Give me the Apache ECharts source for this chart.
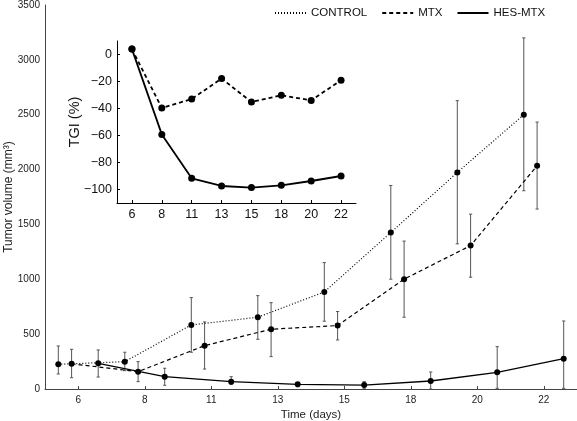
<!DOCTYPE html>
<html><head><meta charset="utf-8">
<script src="https://cdn.jsdelivr.net/npm/echarts@6/dist/echarts.min.js"></script>
<style>html,body{margin:0;padding:0;background:#fff}#c{width:577px;height:421px}</style>
</head><body><div id="c"></div>
<script>
// ---- data ----
const dayLabels = ['6','8','11','13','15','18','20','22'];
const controlMean = [225, 249, 584, 654, 885, 1426, 1974, 2500];
const controlLow  = [137, 167, 335, 453, 618, 1001, 1323, 1807];
const controlHigh = [392, 335, 833, 851, 1152, 1855, 2628, 3200];
const mtxMean = [230, 158, 395, 545, 578, 1001, 1307, 2035];
const mtxLow  = [103, 67, 182, 295, 447, 654, 1019, 1640];
const mtxHigh = [362, 249, 611, 787, 706, 1348, 1594, 2433];
const hesMean = [234, 112, 67, 43, 36, 73, 152, 276];
const hesLow  = [109, 34, 43, 21, 6, 0, 6, 6];
const hesHigh = [356, 189, 112, 57, 67, 155, 386, 620];
const tgiMtx = [4, -39.6, -33, -17.8, -35.2, -30.2, -34, -19.1];
const tgiHes = [4, -59.2, -91.7, -97.4, -98.6, -96.9, -93.7, -90];
const yTicksMain = [0, 500, 1000, 1500, 2000, 2500, 3000, 3500];
const yTicksInset = [-100, -80, -60, -40, -20, 0];

// ---- presentation ----
const FONT = "'Liberation Sans', Arial, sans-serif";
const offsets = {control: -0.3, mtx: -0.1, hes: 0.3};
const idx = dayLabels.map((_, i) => i);
const pts = (vals, off) => vals.map((v, i) => [i + off, v]);
const errs = (lo, hi, off) => lo.map((l, i) => [i + off, l, hi[i]]);

function errRender(params, api) {
  const x = api.value(0);
  const lo = api.coord([x, api.value(1)]);
  const hi = api.coord([x, api.value(2)]);
  const w = 1.6;
  const st = {stroke: '#555', lineWidth: 1};
  return {type: 'group', children: [
    {type: 'line', shape: {x1: lo[0], y1: lo[1], x2: hi[0], y2: hi[1]}, style: st},
    {type: 'line', shape: {x1: lo[0]-w, y1: lo[1], x2: lo[0]+w, y2: lo[1]}, style: st},
    {type: 'line', shape: {x1: hi[0]-w, y1: hi[1], x2: hi[0]+w, y2: hi[1]}, style: st}
  ]};
}
const errSeries = (name, lo, hi, off) => ({
  type: 'custom', name: name, xAxisIndex: 0, yAxisIndex: 0, z: 1,
  renderItem: errRender, encode: {x: 0, y: [1, 2]}, data: errs(lo, hi, off), silent: true
});
const lineSeries = (name, vals, off, type, xi, yi, size, width) => ({
  type: 'line', name: name, xAxisIndex: xi, yAxisIndex: yi, z: 3,
  data: pts(vals, off), symbol: 'circle', symbolSize: size,
  itemStyle: {color: '#000'}, lineStyle: {color: '#000', width: width, type: type},
  animation: false
});

const chart = echarts.init(document.getElementById('c'), null, {renderer: 'canvas'});
chart.setOption({
  animation: false,
  textStyle: {fontFamily: FONT},
  legend: {
    data: ['CONTROL', 'MTX', 'HES-MTX'], left: 274, top: 7, padding: 0,
    itemWidth: 31, itemHeight: 12, itemGap: 14,
    itemStyle: {opacity: 0},
    textStyle: {fontFamily: FONT, fontSize: 11.5, color: '#111'}
  },
  grid: [
    {left: 45, right: 0, top: 5, bottom: 32, outerBoundsMode: 'none', containLabel: false},
    {left: 117, top: 41, width: 239, height: 162, outerBoundsMode: 'none', containLabel: false}
  ],
  xAxis: [
    {type: 'value', gridIndex: 0, min: -0.5, max: 7.5,
     name: 'Time (days)', nameLocation: 'middle', nameGap: 20, nameMoveOverlap: false,
     nameTextStyle: {fontSize: 11.5, color: '#222', fontFamily: FONT},
     axisLine: {onZero: false, lineStyle: {color: '#444', width: 1}},
     axisTick: {inside: true, length: 3, customValues: idx, lineStyle: {color: '#444'}},
     axisLabel: {customValues: idx, formatter: v => dayLabels[Math.round(v)], fontSize: 10, color: '#222', margin: 6},
     splitLine: {show: false}},
    {type: 'value', gridIndex: 1, min: -0.5, max: 7.5,
     axisLine: {onZero: false, lineStyle: {color: '#000', width: 1}},
     axisTick: {inside: true, length: 3, customValues: idx, lineStyle: {color: '#000'}},
     axisLabel: {customValues: idx, formatter: v => dayLabels[Math.round(v)], fontSize: 12.5, color: '#111', margin: 5},
     splitLine: {show: false}}
  ],
  yAxis: [
    {type: 'value', gridIndex: 0, min: 0, max: 3500, interval: 500,
     name: 'Tumor volume (mm³)', nameLocation: 'middle', nameGap: 30, nameMoveOverlap: false,
     nameTextStyle: {fontSize: 12, color: '#222', fontFamily: FONT},
     axisLine: {show: true, onZero: false, lineStyle: {color: '#444', width: 1}},
     axisTick: {show: false},
     axisLabel: {fontSize: 10, color: '#222', margin: 5,
                 customValues: yTicksMain, formatter: v => String(v)},
     splitLine: {show: false}},
    {type: 'value', gridIndex: 1, min: -110, max: 10,
     name: 'TGI (%)', nameLocation: 'middle', nameGap: 35, nameMoveOverlap: false,
     nameTextStyle: {fontSize: 14.5, color: '#111', fontFamily: FONT},
     axisLine: {show: true, onZero: false, lineStyle: {color: '#000', width: 1}},
     axisTick: {show: true, inside: true, length: 3, customValues: yTicksInset, lineStyle: {color: '#000'}},
     axisLabel: {customValues: yTicksInset, fontSize: 12.5, color: '#111', margin: 5,
                 formatter: v => v < 0 ? '\u2212' + Math.abs(v) : String(v)},
     splitLine: {show: false}}
  ],
  series: [
    errSeries('CONTROL err', controlLow, controlHigh, offsets.control),
    errSeries('MTX err', mtxLow, mtxHigh, offsets.mtx),
    errSeries('HES-MTX err', hesLow, hesHigh, offsets.hes),
    lineSeries('CONTROL', controlMean, offsets.control, [1, 2], 0, 0, 6, 1.2),
    lineSeries('MTX', mtxMean, offsets.mtx, [4, 3], 0, 0, 6, 1.2),
    lineSeries('HES-MTX', hesMean, offsets.hes, 'solid', 0, 0, 6, 1.3),
    lineSeries('MTX TGI', tgiMtx, 0, [4, 3], 1, 1, 7, 1.8),
    lineSeries('HES-MTX TGI', tgiHes, 0, 'solid', 1, 1, 7, 1.8)
  ]
});
</script></body></html>
